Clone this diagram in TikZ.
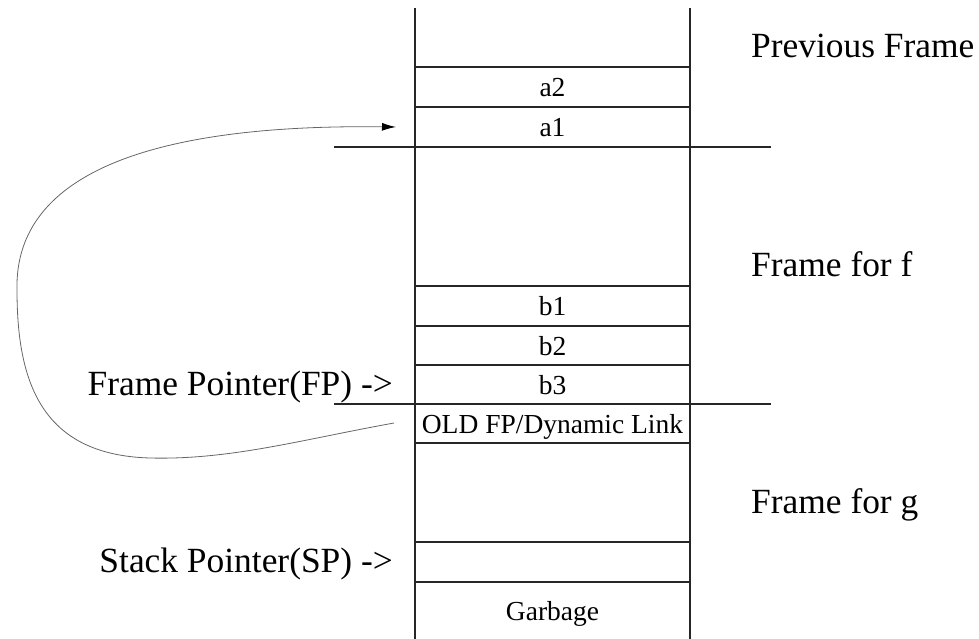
\documentclass[tikz,border=0pt]{standalone}
\usepackage{fontspec}
\setmainfont{Liberation Serif}
\usetikzlibrary{arrows.meta}
\tikzset{
  grid/.style={line width=1.3pt, draw=black!85},
  biglabel/.style={font=\fontsize{35.4}{40}\selectfont, inner sep=0pt},
  cellfont/.style={font=\fontsize{27.5}{32}\selectfont, inner sep=0pt, anchor=base},
  link/.style={line width=0.8pt, draw=black!60, -{Latex[length=14pt,width=8pt,black,line width=1pt]}}
}
\begin{document}
\begin{tikzpicture}[x=1pt,y=-1pt]
\useasboundingbox (0,0) rectangle (979,639);
% column sides
\draw[grid] (415,8) -- (415,639);
\draw[grid] (690,8) -- (690,639);
% cell lines
\foreach \yy in {67,107,286,326,365,443,542,582}
  \draw[grid] (415,\yy) -- (690,\yy);
% frame separators
\draw[grid] (334,147) -- (771,147);
\draw[grid] (334,404) -- (771,404);
% cell texts
\node[cellfont] (a2) at (552.5,96.5) {a2};
\node[cellfont] (a1) at (552.5,136.5) {a1};
\node[cellfont] (b1) at (552.5,315.5) {b1};
\node[cellfont] (b2) at (552.5,355.5) {b2};
\node[cellfont] (b3) at (552.5,394) {b3};
\node[cellfont] (oldfp) at (552.5,433) {OLD FP/Dynamic Link};
\node[cellfont] (garbage) at (552.5,620) {Garbage};
% frame labels
\node[biglabel, anchor=base west] (prev) at (751,58) {Previous Frame};
\node[biglabel, anchor=base west] (ff) at (751,276) {Frame for f};
\node[biglabel, anchor=base west] (fg) at (751,513) {Frame for g};
% pointer labels
\node[biglabel, anchor=base east] (fp) at (393,395) {Frame Pointer(FP) ->};
\node[biglabel, anchor=base east] (sp) at (393,572) {Stack Pointer(SP) ->};
% dynamic link
\coordinate (src) at (394,423);
\coordinate (dst) at (396,127);
\draw[link] (src) .. controls (300,440) and (230,460) .. (150,458)
  .. controls (40,455) and (17,380) .. (17,290)
  .. controls (14,170) and (160,124) .. (dst);
\end{tikzpicture}
\end{document}
